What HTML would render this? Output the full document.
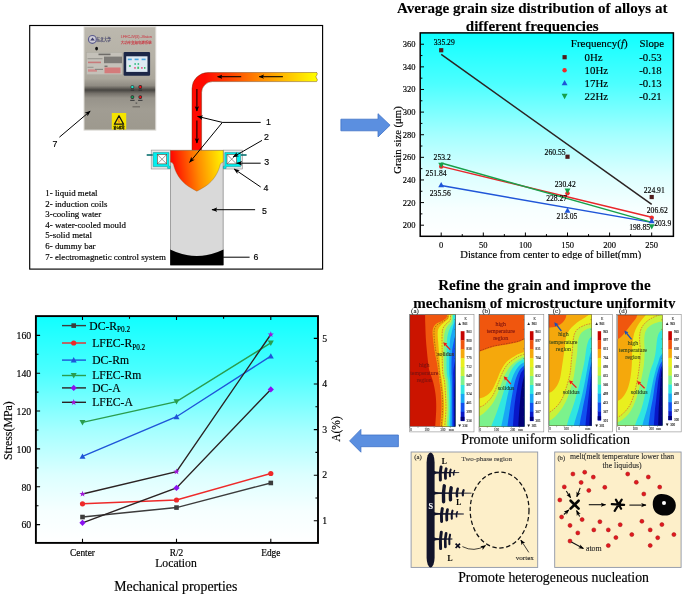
<!DOCTYPE html>
<html lang="en">
<head>
<meta charset="utf-8">
<title>Graphical abstract</title>
<style>
html,body{margin:0;padding:0;background:#fff;}
body{width:685px;height:596px;overflow:hidden;}
svg{display:block;}
text{font-family:"Liberation Serif","Noto Serif CJK SC",serif;fill:#000;stroke:#000;stroke-width:0.16px;stroke-linejoin:round;}
.ss{font-family:"Liberation Sans","Noto Sans CJK SC",sans-serif;}
.b{font-weight:bold;stroke-width:0.1px;}
.t{stroke-width:0.1px;}
</style>
</head>
<body>
<svg width="685" height="596" viewBox="0 0 685 596">
<filter id="soft" x="0" y="0" width="685" height="596" filterUnits="userSpaceOnUse" color-interpolation-filters="sRGB"><feGaussianBlur stdDeviation="0.45"/></filter>
<g filter="url(#soft)">
<defs>
<linearGradient id="gCy" x1="0" y1="0" x2="0" y2="1">
<stop offset="0" stop-color="#10ffff"/><stop offset="0.25" stop-color="#4cffff"/><stop offset="0.5" stop-color="#a4ffff"/><stop offset="0.7" stop-color="#dcffff"/><stop offset="0.86" stop-color="#f6ffff"/><stop offset="1" stop-color="#ffffff"/>
</linearGradient>
<linearGradient id="gPipe" gradientUnits="userSpaceOnUse" x1="205" y1="0" x2="317" y2="0">
<stop offset="0" stop-color="#ff0a00"/><stop offset="0.5" stop-color="#ff8c00"/><stop offset="1" stop-color="#ffff00"/>
</linearGradient>
<linearGradient id="gMelt" gradientUnits="userSpaceOnUse" x1="172" y1="160" x2="222" y2="154">
<stop offset="0" stop-color="#ff0a00"/><stop offset="0.5" stop-color="#ff8a00"/><stop offset="1" stop-color="#fff200"/>
</linearGradient>
<linearGradient id="gCab" x1="0" y1="0" x2="0" y2="1">
<stop offset="0" stop-color="#bcb8ae"/><stop offset="0.3" stop-color="#b6b2a7"/><stop offset="0.5" stop-color="#aba79c"/><stop offset="0.57" stop-color="#8f8b82"/><stop offset="0.612" stop-color="#474541"/><stop offset="0.645" stop-color="#75716a"/><stop offset="0.69" stop-color="#97938a"/><stop offset="0.8" stop-color="#a19d93"/><stop offset="1" stop-color="#9d998e"/>
</linearGradient>
<marker id="ah" viewBox="0 0 10 10" refX="9" refY="5" markerWidth="6" markerHeight="6" markerUnits="userSpaceOnUse" orient="auto"><path d="M0,1.2 L10,5 L0,8.8 L2.5,5 Z" fill="#000"/></marker>
<marker id="ahs" viewBox="0 0 10 10" refX="9" refY="5" markerWidth="5.4" markerHeight="5.4" markerUnits="userSpaceOnUse" orient="auto"><path d="M0,1 L10,5 L0,9 L2.5,5 Z" fill="#000"/></marker>
</defs>
<rect x="0" y="0" width="685" height="596" fill="#fff"/>
<g id="titles">
<text class="b" font-size="15.05" text-anchor="middle" x="532.2" y="12.9">Average grain size distribution of alloys at</text>
<text class="b" font-size="15.05" text-anchor="middle" x="532.2" y="30.6">different frequencies</text>
<text class="b" font-size="15.05" text-anchor="middle" x="544.4" y="290.2">Refine the grain and improve the</text>
<text class="b" font-size="15.05" text-anchor="middle" x="544.4" y="308.2">mechanism of microstructure uniformity</text>
<text font-size="13.95" text-anchor="middle" x="545.6" y="444.2">Promote uniform solidfication</text>
<text font-size="13.8" text-anchor="middle" x="553.6" y="581.6">Promote heterogeneous nucleation</text>
<path d="M340.9,119.2 L378,119.2 L378,113.7 L390.1,125.2 L378,136.9 L378,130.8 L340.9,130.8 Z" fill="#5b8fe0" stroke="#3f72c8" stroke-width="0.8" stroke-linejoin="miter"/>
<path d="M398.4,435 L360.9,435 L360.9,429.4 L349.6,440.9 L360.9,452.2 L360.9,446.7 L398.4,446.7 Z" fill="#5b8fe0" stroke="#3f72c8" stroke-width="0.8" stroke-linejoin="miter"/>
</g>
<g id="panel-apparatus">
<rect x="29.7" y="25.5" width="292.9" height="243.6" fill="#fff" stroke="#000" stroke-width="1.15"/>
<!-- cabinet -->
<g id="cabinet">
<rect x="84" y="26.8" width="71.8" height="103.3" fill="url(#gCab)" stroke="#dddbd6" stroke-width="1"/>
<circle cx="92.4" cy="39.4" r="3.9" fill="#cfcdd6" stroke="#5a5a8c" stroke-width="1.2"/>
<path d="M90.2,40.6 L92.5,37.6 L94.8,40.6 Z" fill="#3d3d6e"/>
<text x="96.5" y="41.4" font-size="4.6" fill="#3b3b66" style="fill:#3b3b66;stroke:#3b3b66" textLength="14.5" lengthAdjust="spacingAndGlyphs">东北大学</text>
<text class="ss" x="120.7" y="38.3" font-size="3.9" style="fill:#c9555c;stroke:#c9555c" textLength="31" lengthAdjust="spacingAndGlyphs">LFEC-IV(3) -Vision</text>
<text class="ss" x="120.7" y="43.9" font-size="3.9" style="fill:#c9404a;stroke:#c9404a" textLength="31" lengthAdjust="spacingAndGlyphs">大功率变频电源系统</text>
<ellipse cx="96.6" cy="48.6" rx="1.4" ry="1.9" fill="#111"/>
<rect x="86.6" y="52.5" width="35.5" height="22.2" fill="#c4c1b9" stroke="#a8a59c" stroke-width="0.4"/>
<rect x="98.5" y="53.6" width="12" height="1.6" fill="#6e6c68"/>
<rect x="104" y="56.6" width="18" height="6.6" fill="#7d7b77"/>
<rect x="87.5" y="58.3" width="15" height="0.9" fill="#8f8c86"/>
<rect x="88" y="61.6" width="13" height="1.6" fill="#c87a7a"/>
<rect x="87.5" y="66.8" width="6" height="0.9" fill="#8f8c86"/>
<rect x="88" y="69.3" width="9" height="2.4" fill="#d08a8a"/>
<rect x="95" y="68.8" width="8" height="1.2" fill="#8a8782"/>
<rect x="104.5" y="65.7" width="3" height="1" fill="#55534f"/>
<rect x="104.5" y="67.5" width="16" height="5.8" fill="#d47b7b"/>
<rect x="123.6" y="51.9" width="26.5" height="23.9" rx="1.2" fill="#1c2748"/>
<rect x="126.2" y="56.3" width="21.3" height="15.6" fill="#dfeaf3"/>
<rect x="127.8" y="58.6" width="4" height="1.6" fill="#4aa5e0"/>
<rect x="134.6" y="58.6" width="4" height="1.6" fill="#4aa5e0"/>
<rect x="141.6" y="58.6" width="4" height="1.6" fill="#4aa5e0"/>
<circle cx="129.9" cy="66" r="1.1" fill="#3cc06a"/>
<rect x="134.4" y="63" width="1.5" height="2" fill="#48c090"/><rect x="137.6" y="63" width="1.5" height="2" fill="#48c090"/>
<rect x="134.3" y="67" width="1.4" height="1.8" fill="#e0507a"/><rect x="137.3" y="66.7" width="1.8" height="2.2" fill="#3cc06a"/>
<rect x="141.2" y="67" width="1.4" height="1.8" fill="#e0507a"/><rect x="144" y="67" width="1.4" height="1.8" fill="#3cc06a"/>
<circle cx="132.4" cy="87.1" r="1.9" fill="#2a2a28"/><circle cx="132.4" cy="87.1" r="1.25" fill="#1fe0c8"/>
<circle cx="140.3" cy="87" r="1.9" fill="#2a2a28"/><circle cx="140.3" cy="87" r="1.2" fill="#e8121a"/>
<circle cx="132.4" cy="97.1" r="1.9" fill="#2a2a28"/><circle cx="132.4" cy="97.1" r="1.2" fill="#199a5c"/>
<circle cx="140.3" cy="97.1" r="1.9" fill="#2a2a28"/><circle cx="140.3" cy="97.1" r="1.2" fill="#e8121a"/>
<rect x="130.6" y="89.6" width="3.6" height="1.2" fill="#333"/><rect x="138.5" y="89.6" width="3.6" height="1.2" fill="#333"/>
<rect x="130.2" y="99.8" width="4.4" height="1.2" fill="#444"/><rect x="138.1" y="99.8" width="4.4" height="1.2" fill="#444"/>
<rect x="135.6" y="102.6" width="1.6" height="1" fill="#444"/>
<rect x="132.5" y="106.2" width="7.5" height="1.2" fill="#6b6861"/>
<rect x="111.8" y="113" width="14.4" height="16.5" fill="#f5e400"/>
<path d="M119,115.8 L123.6,124.2 L114.4,124.2 Z" fill="#f5e400" stroke="#151515" stroke-width="1.3" stroke-linejoin="round"/>
<path d="M119.2,118.6 L118.3,121.4 L119.5,121.2 L118.7,123.4" fill="none" stroke="#f07020" stroke-width="0.9"/>
<text class="ss b" x="113.6" y="128.6" font-size="3.1" textLength="10.8" lengthAdjust="spacingAndGlyphs">當心觸電</text>
</g>
<!-- pipe -->
<path d="M317,72.5 L208,72.5 A16,16 0 0 0 192,88.5 L192,151 L201.6,151 L201.6,92.6 A11,11 0 0 1 212.6,81.6 L316.6,81.6 Q318.4,80 316.4,78 Q315.4,76.4 316.8,75.2 Q318,73.6 316.6,72.5 Z" fill="url(#gPipe)"/>
<path d="M317,72.5 L208,72.5 A16,16 0 0 0 192,88.5 L192,151 M201.6,151 L201.6,92.6 A11,11 0 0 1 212.6,81.6 L316.6,81.6 Q318.4,80 316.4,78 Q315.4,76.4 316.8,75.2 Q318,73.6 316.6,72.5" fill="none" stroke="#5a2a08" stroke-width="0.5" opacity="0.8"/>
<!-- billet -->
<path d="M170.5,150.4 L223.2,150.4 L223.2,265.1 L170.5,265.1 Z" fill="#d9d9d9" stroke="#7f7f7f" stroke-width="0.7"/>
<path d="M170.2,249.4 Q196.8,262.6 223.5,249.4 L223.5,265.3 L170.2,265.3 Z" fill="#000"/>
<!-- moulds -->
<g id="mouldL">
<rect x="151.2" y="150.1" width="19.2" height="18.9" fill="#e6e6e6" stroke="#8c8c8c" stroke-width="0.6"/>
<path d="M153.2,152.6 L168.9,152.6 L168.9,166.2 L170.3,166.2 L170.3,168.4 L167.6,168.4 L167.6,166.6 L153.2,166.6 Z" fill="#00f0f0" stroke="#008a8a" stroke-width="0.5"/>
<rect x="157.3" y="154.5" width="9.4" height="9.4" fill="#fff" stroke="#6b3b2b" stroke-width="0.6"/>
<path d="M157.3,154.5 L166.7,163.9 M166.7,154.5 L157.3,163.9" stroke="#555" stroke-width="0.6"/>
<rect x="146.7" y="154.2" width="6" height="1.6" fill="#0a6f6f"/>
</g>
<g id="mouldR">
<rect x="223.3" y="150.1" width="19.2" height="18.9" fill="#e6e6e6" stroke="#8c8c8c" stroke-width="0.6"/>
<path d="M240.5,152.6 L224.8,152.6 L224.8,166.2 L223.4,166.2 L223.4,168.4 L226.1,168.4 L226.1,166.6 L240.5,166.6 Z" fill="#00f0f0" stroke="#008a8a" stroke-width="0.5"/>
<rect x="227" y="154.5" width="9.4" height="9.4" fill="#fff" stroke="#6b3b2b" stroke-width="0.6"/>
<path d="M227,154.5 L236.4,163.9 M236.4,154.5 L227,163.9" stroke="#555" stroke-width="0.6"/>
<rect x="241" y="154.2" width="5.6" height="1.6" fill="#0a6f6f"/>
</g>
<!-- melt -->
<path d="M170.5,150.4 L223.2,150.4 L223.2,162.1 Q221,162.4 220.2,164.6 C218.6,172 213.6,181 205.5,186.2 Q200.5,189.4 196.85,191.2 Q193.2,189.4 188.2,186.2 C180.1,181 175.1,172 173.5,164.6 Q172.7,162.4 170.5,162.1 Z" fill="url(#gMelt)" stroke="#8a5a20" stroke-width="0.35"/>
<!-- flow arrows -->
<g stroke="#000" stroke-width="1.05" fill="none">
<path d="M241.2,76.7 L217.6,76.7" marker-end="url(#ahs)"/>
<path d="M282.9,76.7 L259.2,76.7" marker-end="url(#ahs)"/>
<path d="M196.9,89.1 L196.9,111" marker-end="url(#ahs)"/>
<path d="M196.9,120.5 L196.9,143" marker-end="url(#ahs)"/>
</g>
<!-- callouts -->
<g stroke="#000" stroke-width="1" fill="none">
<path d="M260.7,122.4 L222.4,122.4"/>
<path d="M222.4,122.4 L197.6,116.4" marker-end="url(#ah)"/>
<path d="M222.4,122.4 L189.6,162.4" marker-end="url(#ah)"/>
<path d="M262,140.4 L233.2,157" marker-end="url(#ah)"/>
<path d="M260.7,163.2 L236.8,163.2" marker-end="url(#ah)"/>
<path d="M260.7,187 L234.2,169" marker-end="url(#ah)"/>
<path d="M255.1,209.7 L212,209.7" marker-end="url(#ah)"/>
<path d="M249.6,257.2 L223.2,257.2"/>
<path d="M59.4,137.2 L90.2,111.1" marker-end="url(#ah)"/>
</g>
<g class="ss" font-size="8.8">
<text class="ss" x="266" y="125.3">1</text>
<text class="ss" x="264" y="139.8">2</text>
<text class="ss" x="264.3" y="164.8">3</text>
<text class="ss" x="263.6" y="190.6">4</text>
<text class="ss" x="262" y="213.7">5</text>
<text class="ss" x="253.6" y="260.3">6</text>
<text class="ss" x="52.4" y="147.2">7</text>
</g>
<g font-size="8.9" style="stroke-width:0.24px">
<text x="45.3" y="195.6">1- liquid metal</text>
<text x="45.3" y="206.7">2- induction coils</text>
<text x="45.3" y="216.9">3-cooling water</text>
<text x="45.3" y="227.6">4- water-cooled mould</text>
<text x="45.3" y="238.2">5-solid metal</text>
<text x="45.3" y="248.9">6- dummy bar</text>
<text x="45.3" y="259.5">7- electromagnetic control system</text>
</g>
</g>
<g id="plot-grain">
<rect x="420.2" y="32.9" width="253.2" height="203.4" fill="url(#gCy)" stroke="#000" stroke-width="1.5"/>
<path d="M420.2,225.2 h3.8 M420.2,202.58 h3.8 M420.2,179.96 h3.8 M420.2,157.34 h3.8 M420.2,134.72 h3.8 M420.2,112.1 h3.8 M420.2,89.48 h3.8 M420.2,66.86 h3.8 M420.2,44.24 h3.8 M420.2,213.89 h2.2 M420.2,191.27 h2.2 M420.2,168.65 h2.2 M420.2,146.03 h2.2 M420.2,123.41 h2.2 M420.2,100.79 h2.2 M420.2,78.17 h2.2 M420.2,55.55 h2.2 M441.2,236.3 v-3.8 M483.3,236.3 v-3.8 M525.4,236.3 v-3.8 M567.5,236.3 v-3.8 M609.6,236.3 v-3.8 M651.7,236.3 v-3.8 M462.25,236.3 v-2.2 M504.35,236.3 v-2.2 M546.45,236.3 v-2.2 M588.55,236.3 v-2.2 M630.65,236.3 v-2.2" stroke="#000" stroke-width="1" fill="none"/>
<g font-size="8.5" text-anchor="end">
<text x="415.6" y="228.2">200</text>
<text x="415.6" y="205.58">220</text>
<text x="415.6" y="182.96">240</text>
<text x="415.6" y="160.34">260</text>
<text x="415.6" y="137.72">280</text>
<text x="415.6" y="115.1">300</text>
<text x="415.6" y="92.48">320</text>
<text x="415.6" y="69.86">340</text>
<text x="415.6" y="47.24">360</text>
</g>
<g font-size="8.5" text-anchor="middle">
<text x="441.2" y="248.2">0</text>
<text x="483.3" y="248.2">50</text>
<text x="525.4" y="248.2">100</text>
<text x="567.5" y="248.2">150</text>
<text x="609.6" y="248.2">200</text>
<text x="651.7" y="248.2">250</text>
</g>
<path d="M441.2,54.42 L651.7,204.28" stroke="#2b2323" stroke-width="1.5" fill="none"/>
<path d="M441.2,185.61 L651.7,222.37" stroke="#1f55d8" stroke-width="1.5" fill="none"/>
<path d="M441.2,166.39 L651.7,217.28" stroke="#e8262a" stroke-width="1.5" fill="none"/>
<path d="M441.2,163 L651.7,222.37" stroke="#17a04a" stroke-width="1.5" fill="none"/>
<rect x="439.1" y="48.13" width="4.2" height="4.2" fill="#4e1c1c"/>
<rect x="565.4" y="154.62" width="4.2" height="4.2" fill="#4e1c1c"/>
<rect x="649.6" y="194.93" width="4.2" height="4.2" fill="#4e1c1c"/>
<circle cx="441.2" cy="166.57" r="2.2" fill="#ee2a2a"/>
<circle cx="567.5" cy="193.23" r="2.2" fill="#ee2a2a"/>
<circle cx="651.7" cy="217.71" r="2.2" fill="#ee2a2a"/>
<path d="M441.2,182.03 L444.15,187.34 L438.25,187.34 Z" fill="#1f55d8"/>
<path d="M567.5,207.49 L570.45,212.8 L564.55,212.8 Z" fill="#1f55d8"/>
<path d="M651.7,217.84 L654.65,223.15 L648.75,223.15 Z" fill="#1f55d8"/>
<path d="M441.2,167.98 L444.15,162.67 L438.25,162.67 Z" fill="#17a04a"/>
<path d="M567.5,193.74 L570.45,188.43 L564.55,188.43 Z" fill="#17a04a"/>
<path d="M651.7,229.45 L654.65,224.14 L648.75,224.14 Z" fill="#17a04a"/>
<g font-size="7.6" style="stroke-width:0.05px">
<text x="433.8" y="45.2">335.29</text>
<text x="544.6" y="154.6">260.55</text>
<text x="643.8" y="192.6">224.91</text>
<text x="433.6" y="160.0">253.2</text>
<text x="425.6" y="176.4">251.84</text>
<text x="429.8" y="196.0">235.56</text>
<text x="554.8" y="187.0">230.42</text>
<text x="546.2" y="200.8">228.27</text>
<text x="556.4" y="218.8">213.05</text>
<text x="646.8" y="213.4">206.62</text>
<text x="654.2" y="226.0">203.9</text>
<text x="629.2" y="230.4">198.85</text>
</g>
<g font-size="10.8">
<text x="570.8" y="47.2" font-size="11">Frequency(<tspan font-style="italic">f</tspan>)</text>
<text x="639.4" y="47.2">Slope</text>
<text x="584.6" y="60.6">0Hz</text>
<text x="639.2" y="60.6">-0.53</text>
<text x="584.6" y="73.6">10Hz</text>
<text x="639.2" y="73.6">-0.18</text>
<text x="584.6" y="86.8">17Hz</text>
<text x="639.2" y="86.8">-0.13</text>
<text x="584.6" y="99.8">22Hz</text>
<text x="639.2" y="99.8">-0.21</text>
</g>
<rect x="562.5" y="55.1" width="4.2" height="4.2" fill="#4e1c1c"/>
<circle cx="564.6" cy="70.2" r="2.2" fill="#ee2a2a"/>
<path d="M564.6,80.05 L567.55,85.36 L561.65,85.36 Z" fill="#1f55d8"/>
<path d="M564.6,99.15 L567.55,93.84 L561.65,93.84 Z" fill="#17a04a"/>
<text font-size="10.7" text-anchor="middle" transform="translate(400.5,140) rotate(-90)">Grain size (μm)</text>
<text font-size="10.55" text-anchor="middle" x="550.8" y="258.4">Distance from center to edge of billet(mm)</text>
<rect x="455" y="259.3" width="195" height="4.4" fill="#fff"/>
</g>
<g id="plot-mech">
<rect x="35.9" y="316.1" width="282.1" height="226.8" fill="url(#gCy)" stroke="#000" stroke-width="1.9"/>
<path d="M35.9,524.6 h4.2 M35.9,486.75 h4.2 M35.9,448.9 h4.2 M35.9,411.05 h4.2 M35.9,373.2 h4.2 M35.9,335.35 h4.2 M35.9,505.68 h2.6 M35.9,467.83 h2.6 M35.9,429.98 h2.6 M35.9,392.12 h2.6 M35.9,354.27 h2.6 M318.0,520.8 h-4.2 M318.0,475.2 h-4.2 M318.0,429.6 h-4.2 M318.0,384 h-4.2 M318.0,338.4 h-4.2 M318.0,498 h-2.6 M318.0,452.4 h-2.6 M318.0,406.8 h-2.6 M318.0,361.2 h-2.6 M82.5,542.9 v-4.2 M82.5,316.1 v4 M176.5,542.9 v-4.2 M176.5,316.1 v4 M270.8,542.9 v-4.2 M270.8,316.1 v4 M129.5,316.1 v2.6 M223.6,316.1 v2.6" stroke="#000" stroke-width="1.1" fill="none"/>
<g font-size="9.8" text-anchor="end">
<text x="31.2" y="528.4">60</text>
<text x="31.2" y="490.55">80</text>
<text x="31.2" y="452.7">100</text>
<text x="31.2" y="414.85">120</text>
<text x="31.2" y="377">140</text>
<text x="31.2" y="339.15">160</text>
</g>
<g font-size="9.8">
<text x="322.2" y="524">1</text>
<text x="322.2" y="478.4">2</text>
<text x="322.2" y="432.8">3</text>
<text x="322.2" y="387.2">4</text>
<text x="322.2" y="341.6">5</text>
</g>
<g font-size="9.4" text-anchor="middle">
<text x="82.5" y="555.5">Center</text>
<text x="176.5" y="555.5">R/2</text>
<text x="270.8" y="555.5">Edge</text>
</g>
<path d="M82.5,517.03 L176.5,507.57 L270.8,482.97" stroke="#3c3c3c" stroke-width="1.4" fill="none"/>
<path d="M82.5,503.78 L176.5,500 L270.8,473.5" stroke="#ee2a2a" stroke-width="1.4" fill="none"/>
<path d="M82.5,456.47 L176.5,416.73 L270.8,356.17" stroke="#1f55d8" stroke-width="1.4" fill="none"/>
<path d="M82.5,422.41 L176.5,401.59 L270.8,342.92" stroke="#2a9d4e" stroke-width="1.4" fill="none"/>
<path d="M82.5,522.8 L176.5,487.9 L270.8,389.4" stroke="#2b2323" stroke-width="1.4" fill="none"/>
<path d="M82.5,494 L176.5,471.7 L270.8,334.5" stroke="#2b2323" stroke-width="1.4" fill="none"/>
<rect x="80.2" y="514.73" width="4.6" height="4.6" fill="#3c3c3c"/>
<rect x="174.2" y="505.27" width="4.6" height="4.6" fill="#3c3c3c"/>
<rect x="268.5" y="480.67" width="4.6" height="4.6" fill="#3c3c3c"/>
<circle cx="82.5" cy="503.78" r="2.6" fill="#ee2a2a"/>
<circle cx="176.5" cy="500" r="2.6" fill="#ee2a2a"/>
<circle cx="270.8" cy="473.5" r="2.6" fill="#ee2a2a"/>
<path d="M82.5,453.47 L85.5,458.87 L79.5,458.87 Z" fill="#1f55d8"/>
<path d="M176.5,413.73 L179.5,419.13 L173.5,419.13 Z" fill="#1f55d8"/>
<path d="M270.8,353.17 L273.8,358.57 L267.8,358.57 Z" fill="#1f55d8"/>
<path d="M82.5,425.41 L85.5,420.01 L79.5,420.01 Z" fill="#2a9d4e"/>
<path d="M176.5,404.59 L179.5,399.19 L173.5,399.19 Z" fill="#2a9d4e"/>
<path d="M270.8,345.92 L273.8,340.52 L267.8,340.52 Z" fill="#2a9d4e"/>
<path d="M82.5,519.7 L85.6,522.8 L82.5,525.9 L79.4,522.8 Z" fill="#8a12f0"/>
<path d="M176.5,484.8 L179.6,487.9 L176.5,491 L173.4,487.9 Z" fill="#8a12f0"/>
<path d="M270.8,386.3 L273.9,389.4 L270.8,392.5 L267.7,389.4 Z" fill="#8a12f0"/>
<path d="M82.5,490.8 L83.29,492.91 L85.54,493.01 L83.78,494.42 L84.38,496.59 L82.5,495.34 L80.62,496.59 L81.22,494.42 L79.46,493.01 L81.71,492.91 Z" fill="#a018d8"/>
<path d="M176.5,468.5 L177.29,470.61 L179.54,470.71 L177.78,472.12 L178.38,474.29 L176.5,473.04 L174.62,474.29 L175.22,472.12 L173.46,470.71 L175.71,470.61 Z" fill="#a018d8"/>
<path d="M270.8,331.3 L271.59,333.41 L273.84,333.51 L272.08,334.92 L272.68,337.09 L270.8,335.84 L268.92,337.09 L269.52,334.92 L267.76,333.51 L270.01,333.41 Z" fill="#a018d8"/>
<path d="M62,325.6 H86" stroke="#3c3c3c" stroke-width="1.4"/>
<rect x="71.4" y="323.3" width="4.6" height="4.6" fill="#3c3c3c"/>
<text font-size="11.6" x="89.3" y="329.5">DC-R<tspan font-size="7.2" dy="2.6">P0.2</tspan></text>
<path d="M62,343.0 H86" stroke="#ee2a2a" stroke-width="1.4"/>
<circle cx="73.7" cy="343" r="2.6" fill="#ee2a2a"/>
<text font-size="11.6" x="92.2" y="346.9">LFEC-R<tspan font-size="7.2" dy="2.6">P0.2</tspan></text>
<path d="M62,360.1 H86" stroke="#1f55d8" stroke-width="1.4"/>
<path d="M73.7,357.1 L76.7,362.5 L70.7,362.5 Z" fill="#1f55d8"/>
<text font-size="11.6" x="92.2" y="364">DC-Rm</text>
<path d="M62,375.5 H86" stroke="#2a9d4e" stroke-width="1.4"/>
<path d="M73.7,378.5 L76.7,373.1 L70.7,373.1 Z" fill="#2a9d4e"/>
<text font-size="11.6" x="92.2" y="379.4">LFEC-Rm</text>
<path d="M62,387.9 H86" stroke="#2b2323" stroke-width="1.4"/>
<path d="M73.7,384.8 L76.8,387.9 L73.7,391 L70.6,387.9 Z" fill="#8a12f0"/>
<text font-size="11.6" x="92.2" y="391.8">DC-A</text>
<path d="M62,402.3 H86" stroke="#2b2323" stroke-width="1.4"/>
<path d="M73.7,399.1 L74.49,401.21 L76.74,401.31 L74.98,402.72 L75.58,404.89 L73.7,403.64 L71.82,404.89 L72.42,402.72 L70.66,401.31 L72.91,401.21 Z" fill="#a018d8"/>
<text font-size="11.6" x="92.2" y="406.2">LFEC-A</text>
<text font-size="11.9" text-anchor="middle" transform="translate(12.4,430.6) rotate(-90)">Stress(MPa)</text>
<text font-size="11.5" text-anchor="middle" transform="translate(339.8,429) rotate(-90)">A(%)</text>
<text font-size="11.7" text-anchor="middle" x="176" y="566.6">Location</text>
<text font-size="13.8" text-anchor="middle" x="175.8" y="590.6">Mechanical properties</text>
</g>
<g id="contours">
<rect x="405" y="308.5" width="280" height="124.3" fill="#fff"/>
<g id="contour-a">
<rect x="409.7" y="314.4" width="64.3" height="117.5" fill="#fff" stroke="#8a8a8a" stroke-width="0.6"/>
<clipPath id="cp1"><rect x="409.9" y="314.8" width="45.3" height="111.8"/></clipPath>
<g clip-path="url(#cp1)">
<rect x="409.9" y="314.8" width="45.3" height="111.8" fill="#cb1400"/>
<path d="M425.1,313 C425.1,315 425.1,320.1 425.3,325 C425.5,329.9 425.6,336 426.1,342.2 C426.6,348.4 427.5,357.4 428.1,362.3 C428.7,367.2 428.8,368.3 429.6,371.4 C430.4,374.5 431.9,377.3 432.9,381.1 C433.9,384.9 434.9,389.4 435.5,394 C436.1,398.6 436.3,403.3 436.2,409 C436.1,414.7 435.3,424.8 435.1,428 L435.1,428.6 L457.2,428.6 L457.2,312.8 L425.1,312.8 Z" fill="#f0560e"/>
<path d="M446.9,313 C446.8,313.8 447.4,316.3 446.6,317.6 C445.8,318.9 443.9,320 442.2,321 C440.5,322 437.7,322.6 436.2,323.8 C434.7,325 433.8,326.4 433.2,328.1 C432.6,329.8 432.5,331.4 432.6,334.1 C432.7,336.8 433.3,340.8 433.7,344.2 C434.1,347.6 434.6,350.9 435.2,354.3 C435.8,357.7 436.5,359.9 437.2,364.3 C437.9,368.8 438.8,376.1 439.4,381 C440,385.9 440.8,389.3 441.1,394 C441.5,398.7 441.7,403.3 441.5,409 C441.3,414.7 440.2,424.8 440,428 L440,428.6 L457.2,428.6 L457.2,312.8 L446.9,312.8 Z" fill="#f5a80c"/>
<path d="M448.6,313 C448.6,313.9 449.1,317.1 448.4,318.6 C447.7,320.1 445.7,320.8 444.2,322.2 C442.7,323.6 440.5,325.5 439.4,327.1 C438.3,328.8 437.9,329.6 437.7,332.1 C437.5,334.6 437.9,338.5 438.2,342.2 C438.4,345.9 438.8,349.4 439.2,354.3 C439.6,359.2 439.9,366.9 440.4,371.4 C440.9,375.8 441.5,377.2 442,381 C442.5,384.8 443.1,389.3 443.5,394 C443.9,398.7 444.2,403.3 444.1,409 C444,414.7 442.9,424.8 442.6,428 L442.6,428.6 L457.2,428.6 L457.2,312.8 L448.6,312.8 Z" fill="#e9ef1e"/>
<path d="M450.4,313 C450.4,314.2 450.8,318.3 450.2,320 C449.6,321.7 447.8,322 446.6,323.4 C445.4,324.8 443.9,326.3 443.1,328.1 C442.4,329.9 442.3,330.9 442.1,334.1 C441.9,337.3 442,341 442.1,347.2 C442.2,353.4 442.2,365.8 442.6,371.4 C443,377 443.9,377.2 444.4,381 C444.9,384.8 445.1,389.3 445.4,394 C445.6,398.7 446,403.3 445.9,409 C445.8,414.7 444.8,424.8 444.6,428 L444.6,428.6 L457.2,428.6 L457.2,312.8 L450.4,312.8 Z" fill="#c9f23a"/>
<path d="M451.7,313 C451.6,314.3 452.1,318.8 451.4,321 C450.7,323.2 448.6,324.2 447.5,326.1 C446.4,328 445.4,329.4 444.8,332.1 C444.2,334.8 443.9,335.6 443.8,342.2 C443.7,348.8 443.9,364.9 444.3,371.4 C444.7,377.9 445.8,377.2 446.3,381 C446.8,384.8 446.9,389.3 447.1,394 C447.3,398.7 447.8,403.3 447.7,409 C447.6,414.7 446.9,424.8 446.7,428 L446.7,428.6 L457.2,428.6 L457.2,312.8 L451.7,312.8 Z" fill="#7cf28c"/>
<path d="M453,313 C452.9,314.7 453.1,320.6 452.6,323 C452.2,325.4 451.1,325.4 450.3,327.4 C449.5,329.4 448.3,331.8 447.7,335.1 C447.1,338.4 446.9,341.1 446.7,347.2 C446.5,353.2 446.4,365.8 446.7,371.4 C447,377 447.9,377.2 448.3,381 C448.7,384.8 448.8,389.3 449,394 C449.2,398.7 449.5,403.3 449.4,409 C449.3,414.7 448.6,424.8 448.5,428 L448.5,428.6 L457.2,428.6 L457.2,312.8 L453,312.8 Z" fill="#30e6e0"/>
<path d="M455,320 C454.5,322 452.7,328.1 451.8,332.1 C450.9,336.1 450.2,337.6 449.8,344.2 C449.4,350.8 449.2,365.3 449.3,371.4 C449.4,377.5 449.9,377.2 450.1,381 C450.3,384.8 450.6,386.2 450.6,394 C450.6,401.8 450.3,422.3 450.2,428 L450.2,428.6 L457.2,428.6 L457.2,312.8 L455,312.8 Z" fill="#18a8f4"/>
<path d="M455.2,335 C454.7,337.9 452.6,346.1 452,352.2 C451.4,358.3 451.5,366.6 451.5,371.4 C451.5,376.2 451.7,371.6 451.8,381 C451.9,390.4 452,420.2 452,428 L452,428.6 L457.2,428.6 L457.2,312.8 L455.2,312.8 Z" fill="#1050f0"/>
<path d="M455.5,358 C455.1,360.2 453.8,367.6 453.4,371.4 C453,375.2 453.4,371.6 453.4,381 C453.4,390.4 453.5,420.2 453.5,428 L453.5,428.6 L457.2,428.6 L457.2,312.8 L455.5,312.8 Z" fill="#0818c8"/>
<path d="M455.7,376 C455.5,378.3 454.8,381.3 454.6,390 C454.4,398.7 454.5,421.7 454.5,428 L454.5,428.6 L457.2,428.6 L457.2,312.8 L455.7,312.8 Z" fill="#000078"/>
<path d="M450.4,313 C450.4,314.2 450.8,318.3 450.2,320 C449.6,321.7 447.8,322 446.6,323.4 C445.4,324.8 443.9,326.3 443.1,328.1 C442.4,329.9 442.3,330.9 442.1,334.1 C441.9,337.3 442,341 442.1,347.2 C442.2,353.4 442.2,365.8 442.6,371.4 C443,377 443.9,377.2 444.4,381 C444.9,384.8 445.1,389.3 445.4,394 C445.6,398.7 446,403.3 445.9,409 C445.8,414.7 444.8,424.8 444.6,428" fill="none" stroke="#e03030" stroke-width="0.55" stroke-dasharray="1.6 1.1"/>
<path d="M448,313 C447.9,313.8 448.4,316.6 447.6,318 C446.8,319.4 444.7,320.5 443,321.6 C441.3,322.7 438.8,323.4 437.4,324.6 C436,325.8 435.2,327 434.6,328.6 C434,330.2 434,331.5 434,334.1 C434,336.7 434.4,340.8 434.8,344.2 C435.2,347.6 435.8,350.9 436.4,354.3 C437,357.7 437.7,359.9 438.4,364.3 C439.1,368.8 439.8,376.1 440.4,381 C441,385.9 441.8,389.3 442.2,394 C442.6,398.7 442.8,403.3 442.6,409 C442.4,414.7 441.4,424.8 441.2,428" fill="none" stroke="#7a3a10" stroke-width="0.55" stroke-dasharray="1.6 1.1"/>
</g>
<rect x="409.9" y="314.8" width="45.3" height="111.8" fill="none" stroke="#333" stroke-width="0.4"/>
<rect x="460.7" y="331.2" width="3.8" height="9.3" fill="#c60400"/>
<rect x="460.7" y="340.2" width="3.8" height="9.3" fill="#f0560e"/>
<rect x="460.7" y="349.1" width="3.8" height="9.3" fill="#f5a80c"/>
<rect x="460.7" y="358.1" width="3.8" height="9.3" fill="#e9ef1e"/>
<rect x="460.7" y="367" width="3.8" height="9.3" fill="#c9f23a"/>
<rect x="460.7" y="376" width="3.8" height="9.3" fill="#7cf28c"/>
<rect x="460.7" y="385" width="3.8" height="9.3" fill="#30e6e0"/>
<rect x="460.7" y="393.9" width="3.8" height="9.3" fill="#18a8f4"/>
<rect x="460.7" y="402.9" width="3.8" height="9.3" fill="#1050f0"/>
<rect x="460.7" y="411.8" width="3.8" height="9.3" fill="#0818c8"/>
<rect x="460.7" y="416.8" width="3.8" height="4" fill="#000078"/>
<g class="t" font-size="3.3">
<text class="t" x="466.6" y="332.5" style="fill:#222;stroke:#222">963</text>
<text class="t" x="466.6" y="341.5" style="fill:#222;stroke:#222">900</text>
<text class="t" x="466.6" y="350.4" style="fill:#222;stroke:#222">838</text>
<text class="t" x="466.6" y="359.4" style="fill:#222;stroke:#222">775</text>
<text class="t" x="466.6" y="368.3" style="fill:#222;stroke:#222">712</text>
<text class="t" x="466.6" y="377.3" style="fill:#222;stroke:#222">649</text>
<text class="t" x="466.6" y="386.3" style="fill:#222;stroke:#222">587</text>
<text class="t" x="466.6" y="395.2" style="fill:#222;stroke:#222">524</text>
<text class="t" x="466.6" y="404.2" style="fill:#222;stroke:#222">461</text>
<text class="t" x="466.6" y="413.1" style="fill:#222;stroke:#222">399</text>
<text class="t" x="466.6" y="422.1" style="fill:#222;stroke:#222">336</text>
<text class="t" x="464.4" y="320" style="fill:#444;stroke:#444">K</text>
<text class="t" x="457.4" y="324.5" style="fill:#222;stroke:#222"><tspan font-size="4.4">▲</tspan> 963</text>
<text class="t" x="457.4" y="427.2" style="fill:#222;stroke:#222"><tspan font-size="4.4">▼</tspan> 336</text>
<text class="t" x="411" y="431.2" text-anchor="middle" style="fill:#444;stroke:#444">0</text>
<text class="t" x="427" y="431.2" text-anchor="middle" style="fill:#444;stroke:#444">100</text>
<text class="t" x="443" y="431.2" text-anchor="middle" style="fill:#444;stroke:#444">200</text>
<text class="t" x="451.4" y="431.2" text-anchor="middle" style="fill:#444;stroke:#444">mm</text>
</g>
<path d="M409.9,426.6 v1.4 M418,426.6 v1.4 M426.1,426.6 v1.4 M434.2,426.6 v1.4 M442.3,426.6 v1.4 M450.3,426.6 v1.4 M455.2,426.6 h-1.2 M455.2,416.9 h-1.2 M455.2,407.2 h-1.2 M455.2,397.4 h-1.2 M455.2,387.7 h-1.2 M455.2,378 h-1.2 M455.2,368.3 h-1.2 M455.2,358.5 h-1.2 M455.2,348.8 h-1.2 M455.2,339.1 h-1.2 M455.2,329.4 h-1.2 M455.2,319.7 h-1.2" stroke="#444" stroke-width="0.35" fill="none"/>
<text x="445.6" y="355.8" class="t" font-size="5.9" text-anchor="middle" style="fill:#3a2a10;stroke:#3a2a10">solidus</text>
<text x="424.2" y="367.4" class="t" font-size="5.9" text-anchor="middle" style="fill:#7e1410;stroke:#7e1410">high</text>
<text x="424.2" y="374.6" class="t" font-size="5.9" text-anchor="middle" style="fill:#7e1410;stroke:#7e1410">temperature</text>
<text x="424.2" y="381.8" class="t" font-size="5.9" text-anchor="middle" style="fill:#7e1410;stroke:#7e1410">region</text>
<path d="M450.2,349.6 L445.8,345" stroke="#f01818" stroke-width="1.3" fill="none"/>
<path d="M443.2,342.2 L447.3,343.6 L444.4,346.3 Z" fill="#f01818"/>
<text class="t" x="411.1" y="312.9" font-size="6.9" style="fill:#222;stroke:#222">(a)</text>
</g>
<g id="contour-b">
<rect x="479" y="314.4" width="64.8" height="117.5" fill="#fff" stroke="#8a8a8a" stroke-width="0.6"/>
<clipPath id="cp2"><rect x="479.2" y="314.8" width="45.1" height="111.7"/></clipPath>
<g clip-path="url(#cp2)">
<rect x="479.2" y="314.8" width="45.1" height="111.7" fill="#f0560e"/>
<path d="M477.5,352.4 C478.6,352 481.7,350.8 484,350 C486.3,349.2 488.7,348.1 491.4,347.4 C494.1,346.7 497.4,346.1 500,345.6 C502.6,345.1 504.2,344.9 506.9,344.4 C509.6,343.9 513.8,343.2 516.1,342.6 C518.5,342 519.4,341.7 521,341 C522.6,340.3 525.2,339 526,338.6 L526.3,338.6 L526.3,428.5 L477.2,428.5 L477.5,352.4 Z" fill="#f5a80c"/>
<path d="M477.5,398.6 C478.1,398.5 479.7,398.4 481,398 C482.3,397.6 483.6,397.5 485.3,396.3 C487,395.1 489.6,393.3 491.4,390.9 C493.2,388.5 494.6,385 496.1,381.7 C497.7,378.4 498.9,374.2 500.7,370.9 C502.5,367.5 504.6,364.1 506.9,361.6 C509.2,359.2 512.4,357.5 514.6,356.2 C516.8,354.9 518.1,354.4 520,353.6 C521.9,352.8 525,351.8 526,351.4 L526.3,351.4 L526.3,428.5 L477.2,428.5 L477.5,398.6 Z" fill="#e9ef1e"/>
<path d="M477.5,407.6 C478.1,407.4 479.7,407.2 481,406.6 C482.3,406 483.4,405.7 485.3,404 C487.2,402.3 490.2,399.5 492.2,396.4 C494.2,393.3 495.6,389.3 497.2,385.6 C498.8,381.9 500.1,377.6 501.8,374 C503.5,370.4 505.3,366.9 507.6,364.3 C509.9,361.7 513.3,359.6 515.4,358.1 C517.5,356.7 518.4,356.4 520.2,355.6 C522,354.8 525,353.8 526,353.4 L526.3,353.4 L526.3,428.5 L477.2,428.5 L477.5,407.6 Z" fill="#c9f23a"/>
<path d="M477.5,416.6 C478.1,416.4 479.7,416 481,415.2 C482.3,414.4 483.3,413.9 485.3,411.8 C487.3,409.7 490.9,406.2 493.2,402.6 C495.4,399 497.1,394.5 498.8,390.4 C500.5,386.3 501.8,381.7 503.5,378 C505.2,374.3 506.9,370.8 509,368 C511.1,365.2 514.5,362.7 516.4,361.1 C518.3,359.5 519,359.2 520.6,358.4 C522.2,357.6 525.1,356.6 526,356.2 L526.3,356.2 L526.3,428.5 L477.2,428.5 L477.5,416.6 Z" fill="#7cf28c"/>
<path d="M490.6,428 C490.8,427.5 490.9,427.3 491.8,425 C492.7,422.7 494.5,418.5 496.1,414.1 C497.7,409.7 499.8,403.8 501.5,398.6 C503.2,393.5 504.6,387.8 506.1,383.2 C507.6,378.6 508.9,374.2 510.7,370.9 C512.5,367.5 515.2,364.9 516.9,363.1 C518.6,361.4 519.5,361.2 521,360.4 C522.5,359.6 525.2,358.7 526,358.4 L526.3,358.4 L526.3,428.5 L490.6,428.5 Z" fill="#30e6e0"/>
<path d="M500.9,428 C501,427.3 501.2,426.8 501.8,424 C502.4,421.2 503.5,415.7 504.5,411 C505.5,406.3 506.4,400.8 507.6,395.6 C508.8,390.5 510.2,384.2 511.5,380.1 C512.8,376 514,373.4 515.4,370.9 C516.8,368.4 518.2,366.5 520,364.9 C521.8,363.3 525,362 526,361.4 L526.3,361.4 L526.3,428.5 L500.9,428.5 Z" fill="#18a8f4"/>
<path d="M507.3,428 C507.4,427.2 507.5,425.8 507.9,423 C508.3,420.2 508.9,415.8 509.6,411 C510.3,406.2 511.3,399.1 512.3,394 C513.3,388.9 514.2,384 515.4,380.1 C516.5,376.2 518,373.1 519.2,370.9 C520.4,368.7 521.3,368.1 522.4,367 C523.5,365.9 525.4,364.7 526,364.2 L526.3,364.2 L526.3,428.5 L507.3,428.5 Z" fill="#1050f0"/>
<path d="M512.8,428 C512.9,427 512.9,425.9 513.2,422 C513.5,418.1 514,410.2 514.6,404.8 C515.2,399.4 516,394.3 516.9,389.4 C517.8,384.5 519,378.6 520,375.5 C521,372.4 521.6,372 522.6,370.6 C523.6,369.2 525.4,367.8 526,367.2 L526.3,367.2 L526.3,428.5 L512.8,428.5 Z" fill="#0818c8"/>
<path d="M518.3,428 C518.3,426.7 518.3,424.4 518.6,420 C518.9,415.6 519.4,407.8 520,401.7 C520.6,395.6 521.3,388.3 522.3,383.2 C523.3,378.1 525.4,373 526,371 L526.3,371 L526.3,428.5 L518.3,428.5 Z" fill="#000078"/>
<path d="M477.5,407.6 C478.1,407.4 479.7,407.2 481,406.6 C482.3,406 483.4,405.7 485.3,404 C487.2,402.3 490.2,399.5 492.2,396.4 C494.2,393.3 495.6,389.3 497.2,385.6 C498.8,381.9 500.1,377.6 501.8,374 C503.5,370.4 505.3,366.9 507.6,364.3 C509.9,361.7 513.3,359.6 515.4,358.1 C517.5,356.7 518.4,356.4 520.2,355.6 C522,354.8 525,353.8 526,353.4" fill="none" stroke="#e03030" stroke-width="0.55" stroke-dasharray="1.6 1.1"/>
<path d="M477.5,351.6 C478.6,351.2 481.7,350 484,349.2 C486.3,348.4 488.7,347.3 491.4,346.6 C494.1,345.9 497.4,345.3 500,344.8 C502.6,344.3 504.2,344.1 506.9,343.6 C509.6,343.1 513.8,342.4 516.1,341.8 C518.5,341.2 519.4,340.9 521,340.2 C522.6,339.5 525.2,338.2 526,337.8" fill="none" stroke="#7a3a10" stroke-width="0.55" stroke-dasharray="1.6 1.1"/>
</g>
<rect x="479.2" y="314.8" width="45.1" height="111.7" fill="none" stroke="#333" stroke-width="0.4"/>
<rect x="529.9" y="331.2" width="3.6" height="9.3" fill="#c60400"/>
<rect x="529.9" y="340.2" width="3.6" height="9.3" fill="#f0560e"/>
<rect x="529.9" y="349.1" width="3.6" height="9.3" fill="#f5a80c"/>
<rect x="529.9" y="358.1" width="3.6" height="9.3" fill="#e9ef1e"/>
<rect x="529.9" y="367" width="3.6" height="9.3" fill="#c9f23a"/>
<rect x="529.9" y="376" width="3.6" height="9.3" fill="#7cf28c"/>
<rect x="529.9" y="385" width="3.6" height="9.3" fill="#30e6e0"/>
<rect x="529.9" y="393.9" width="3.6" height="9.3" fill="#18a8f4"/>
<rect x="529.9" y="402.9" width="3.6" height="9.3" fill="#1050f0"/>
<rect x="529.9" y="411.8" width="3.6" height="9.3" fill="#0818c8"/>
<rect x="529.9" y="416.8" width="3.6" height="4" fill="#000078"/>
<g class="t" font-size="3.3">
<text class="t" x="535.6" y="332.5" style="fill:#222;stroke:#222">963</text>
<text class="t" x="535.6" y="341.5" style="fill:#222;stroke:#222">897</text>
<text class="t" x="535.6" y="350.4" style="fill:#222;stroke:#222">831</text>
<text class="t" x="535.6" y="359.4" style="fill:#222;stroke:#222">764</text>
<text class="t" x="535.6" y="368.3" style="fill:#222;stroke:#222">698</text>
<text class="t" x="535.6" y="377.3" style="fill:#222;stroke:#222">632</text>
<text class="t" x="535.6" y="386.3" style="fill:#222;stroke:#222">566</text>
<text class="t" x="535.6" y="395.2" style="fill:#222;stroke:#222">499</text>
<text class="t" x="535.6" y="404.2" style="fill:#222;stroke:#222">433</text>
<text class="t" x="535.6" y="413.1" style="fill:#222;stroke:#222">367</text>
<text class="t" x="535.6" y="422.1" style="fill:#222;stroke:#222">301</text>
<text class="t" x="533.4" y="320" style="fill:#444;stroke:#444">K</text>
<text class="t" x="526.6" y="324.5" style="fill:#222;stroke:#222"><tspan font-size="4.4">▲</tspan> 963</text>
<text class="t" x="526.6" y="427.2" style="fill:#222;stroke:#222"><tspan font-size="4.4">▼</tspan> 301</text>
<text class="t" x="480.4" y="431.1" text-anchor="middle" style="fill:#444;stroke:#444">0</text>
<text class="t" x="496.6" y="431.1" text-anchor="middle" style="fill:#444;stroke:#444">100</text>
<text class="t" x="512.8" y="431.1" text-anchor="middle" style="fill:#444;stroke:#444">200</text>
<text class="t" x="520.6" y="431.1" text-anchor="middle" style="fill:#444;stroke:#444">mm</text>
</g>
<path d="M479.2,426.5 v1.4 M487.3,426.5 v1.4 M495.3,426.5 v1.4 M503.4,426.5 v1.4 M511.4,426.5 v1.4 M519.5,426.5 v1.4 M524.3,426.5 h-1.2 M524.3,416.8 h-1.2 M524.3,407.1 h-1.2 M524.3,397.4 h-1.2 M524.3,387.6 h-1.2 M524.3,377.9 h-1.2 M524.3,368.2 h-1.2 M524.3,358.5 h-1.2 M524.3,348.8 h-1.2 M524.3,339.1 h-1.2 M524.3,329.4 h-1.2 M524.3,319.7 h-1.2" stroke="#444" stroke-width="0.35" fill="none"/>
<text x="506" y="390.4" class="t" font-size="5.9" text-anchor="middle" style="fill:#1e3a20;stroke:#1e3a20">solidus</text>
<text x="500.7" y="326.4" class="t" font-size="5.9" text-anchor="middle" style="fill:#7e1410;stroke:#7e1410">high</text>
<text x="500.7" y="333.4" class="t" font-size="5.9" text-anchor="middle" style="fill:#7e1410;stroke:#7e1410">temperature</text>
<text x="500.7" y="340.4" class="t" font-size="5.9" text-anchor="middle" style="fill:#7e1410;stroke:#7e1410">region</text>
<path d="M510.8,384 L506.3,379" stroke="#f01818" stroke-width="1.3" fill="none"/>
<path d="M503.7,376.2 L507.7,377.7 L504.8,380.4 Z" fill="#f01818"/>
<text class="t" x="482.3" y="312.9" font-size="6.9" style="fill:#222;stroke:#222">(b)</text>
</g>
<g id="contour-c">
<rect x="548.4" y="314.4" width="64.2" height="117.5" fill="#fff" stroke="#8a8a8a" stroke-width="0.6"/>
<clipPath id="cp3"><rect x="549.0" y="314.8" width="42.6" height="111"/></clipPath>
<g clip-path="url(#cp3)">
<rect x="549.0" y="314.8" width="42.6" height="111" fill="#f0560e"/>
<path d="M566.6,313 C566.5,313.7 566.3,315.8 566,317 C565.7,318.2 565.2,319.1 564.6,320 C564,320.9 563.4,321.8 562.6,322.6 C561.9,323.4 561,324 560.1,324.6 C559.2,325.2 558,325.8 557,326.2 C556,326.6 555.7,326.8 554,327.1 C552.3,327.4 548.2,327.9 547,328 L547.0,328 L547.0,427.8 L593.6,427.8 L593.6,312.8 L566.6,312.8 Z" fill="#f5a80c"/>
<path d="M590.6,313 C590.3,313.3 589.5,314.3 588.6,315 C587.7,315.7 586.8,316.3 585.4,317.2 C584,318.1 581.9,319.3 580,320.6 C578.1,321.9 576,323.4 574.2,325 C572.4,326.6 570.5,328.5 569.1,330.5 C567.8,332.5 566.8,334.4 566.1,337.2 C565.4,340 565.2,343.8 564.8,347.2 C564.3,350.6 563.9,353.8 563.4,357.3 C562.9,360.8 562.3,364.5 561.8,368 C561.2,371.5 560.7,375.6 560.1,378.1 C559.5,380.6 559.1,381.5 558.4,383 C557.7,384.5 557.2,385.7 556.1,387.1 C555,388.5 553.5,390.6 552,391.6 C550.5,392.6 547.8,392.9 547,393.2 L547.0,393.2 L547.0,427.8 L593.6,427.8 L593.6,312.8 L590.6,312.8 Z" fill="#e9ef1e"/>
<path d="M593,323.4 C592.2,323.5 589.5,323.9 588,324.2 C586.5,324.5 585.8,324.7 584.2,325.4 C582.6,326.1 579.8,327.3 578.2,328.6 C576.6,329.9 575.5,331.5 574.7,333.4 C573.9,335.3 573.6,337.4 573.2,340.2 C572.8,343 572.7,346.5 572.4,350.2 C572.1,353.9 571.5,358.8 571.2,362.3 C570.9,365.8 570.8,368.5 570.4,371.4 C570,374.3 569.3,376.8 568.6,379.6 C567.9,382.4 567,385.3 566.1,388.1 C565.2,390.9 564.4,393.8 563.1,396.6 C561.8,399.4 560,402.5 558.1,404.8 C556.2,407.1 553.9,409.1 552,410.6 C550.1,412.1 547.8,413.1 547,413.6 L547.0,413.6 L547.0,427.8 L593.6,427.8 L593.6,312.8 L593.6,323.4 Z" fill="#c9f23a"/>
<path d="M593,327.6 C592.3,327.7 589.7,328.1 588.6,328.4 C587.5,328.7 587.4,328.7 586.2,329.4 C585,330.1 582.8,331.3 581.6,332.6 C580.4,333.9 579.5,335.6 578.9,337.4 C578.2,339.2 578,340.9 577.7,343.4 C577.4,345.9 577.5,349 577.2,352.2 C576.9,355.4 576.3,359.1 575.9,362.3 C575.5,365.5 575,368.5 574.6,371.4 C574.2,374.3 573.9,376.7 573.2,379.6 C572.5,382.5 571.5,385.6 570.6,388.6 C569.7,391.6 568.9,394.6 567.6,397.6 C566.4,400.6 564.9,403.8 563.1,406.6 C561.4,409.4 559,412.5 557.1,414.6 C555.2,416.7 553.7,418 552,419.2 C550.3,420.4 547.8,421.2 547,421.6 L547.0,421.6 L547.0,427.8 L593.6,427.8 L593.6,312.8 L593.6,327.6 Z" fill="#7cf28c"/>
<path d="M593,335 C592.5,335.5 590.8,337 590,338 C589.2,339 588.9,339.5 588.3,341 C587.7,342.5 587.1,344.7 586.6,347 C586.1,349.3 585.8,352.2 585.4,355 C585,357.8 584.6,361 584,364 C583.4,367 582.7,369.8 582,373 C581.3,376.2 580.4,380.1 579.6,383.4 C578.8,386.7 577.9,389.9 577,393 C576.1,396.1 575.3,399.2 574.4,402.2 C573.5,405.2 572.4,408.2 571.4,411 C570.4,413.8 569.5,416.2 568.6,419 C567.7,421.8 566.6,426.5 566.2,428 L566.2,427.8 L593.6,427.8 L593.6,312.8 L593.6,335 Z" fill="#30e6e0"/>
<path d="M593,347.6 C592.6,348.5 591.3,351.1 590.6,353 C589.9,354.9 589.5,356.8 589,359.3 C588.5,361.8 588,364.9 587.4,368 C586.8,371.1 586.3,374.5 585.6,378 C584.9,381.5 584.2,385.4 583.4,389 C582.6,392.6 581.8,396.3 581,399.6 C580.2,402.9 579.4,406.1 578.6,409 C577.8,411.9 576.9,414.7 576.2,417 C575.5,419.3 574.9,421.2 574.4,423 C573.9,424.8 573.4,427.2 573.2,428 L573.2,427.8 L593.6,427.8 L593.6,312.8 L593.6,347.6 Z" fill="#18a8f4"/>
<path d="M593,358.6 C592.7,359.5 591.6,361.9 591,364 C590.4,366.1 589.9,368.6 589.4,371.4 C588.9,374.2 588.4,377.6 587.8,381 C587.2,384.4 586.6,388.5 586,392 C585.4,395.5 584.7,398.7 584,402 C583.3,405.3 582.6,409 582,412 C581.4,415 580.9,417.3 580.4,420 C579.9,422.7 579.4,426.7 579.2,428 L579.2,427.8 L593.6,427.8 L593.6,312.8 L593.6,358.6 Z" fill="#1050f0"/>
<path d="M593,369 C592.7,370.2 591.7,373.4 591.2,376 C590.7,378.6 590.4,381.3 590,384.5 C589.6,387.7 589.2,391.5 588.8,395 C588.4,398.5 588,401.7 587.6,405.4 C587.2,409.1 586.6,413.2 586.2,417 C585.8,420.8 585.4,426.2 585.2,428 L585.2,427.8 L593.6,427.8 L593.6,312.8 L593.6,369 Z" fill="#0818c8"/>
<path d="M593,381 C592.8,382.5 592,387 591.6,390 C591.2,393 591,395.1 590.7,399.1 C590.4,403.1 590.1,409.2 589.9,414 C589.7,418.8 589.4,425.7 589.3,428 L589.3,427.8 L593.6,427.8 L593.6,312.8 L593.6,381 Z" fill="#000078"/>
<path d="M593,323.4 C592.2,323.5 589.5,323.9 588,324.2 C586.5,324.5 585.8,324.7 584.2,325.4 C582.6,326.1 579.8,327.3 578.2,328.6 C576.6,329.9 575.5,331.5 574.7,333.4 C573.9,335.3 573.6,337.4 573.2,340.2 C572.8,343 572.7,346.5 572.4,350.2 C572.1,353.9 571.5,358.8 571.2,362.3 C570.9,365.8 570.8,368.5 570.4,371.4 C570,374.3 569.3,376.8 568.6,379.6 C567.9,382.4 567,385.3 566.1,388.1 C565.2,390.9 564.4,393.8 563.1,396.6 C561.8,399.4 560,402.5 558.1,404.8 C556.2,407.1 553.9,409.1 552,410.6 C550.1,412.1 547.8,413.1 547,413.6" fill="none" stroke="#e03030" stroke-width="0.55" stroke-dasharray="1.6 1.1"/>
</g>
<rect x="549.0" y="314.8" width="42.6" height="111" fill="none" stroke="#333" stroke-width="0.4"/>
<rect x="597.7" y="331.2" width="3.4" height="9.2" fill="#c60400"/>
<rect x="597.7" y="340.1" width="3.4" height="9.2" fill="#f0560e"/>
<rect x="597.7" y="349" width="3.4" height="9.2" fill="#f5a80c"/>
<rect x="597.7" y="357.9" width="3.4" height="9.2" fill="#e9ef1e"/>
<rect x="597.7" y="366.8" width="3.4" height="9.2" fill="#c9f23a"/>
<rect x="597.7" y="375.7" width="3.4" height="9.2" fill="#7cf28c"/>
<rect x="597.7" y="384.6" width="3.4" height="9.2" fill="#30e6e0"/>
<rect x="597.7" y="393.5" width="3.4" height="9.2" fill="#18a8f4"/>
<rect x="597.7" y="402.4" width="3.4" height="9.2" fill="#1050f0"/>
<rect x="597.7" y="411.3" width="3.4" height="9.2" fill="#0818c8"/>
<rect x="597.7" y="416.2" width="3.4" height="4" fill="#000078"/>
<g class="t" font-size="3.3">
<text class="t" x="603.2" y="332.5" style="fill:#222;stroke:#222">963</text>
<text class="t" x="603.2" y="341.4" style="fill:#222;stroke:#222">897</text>
<text class="t" x="603.2" y="350.3" style="fill:#222;stroke:#222">831</text>
<text class="t" x="603.2" y="359.2" style="fill:#222;stroke:#222">764</text>
<text class="t" x="603.2" y="368.1" style="fill:#222;stroke:#222">698</text>
<text class="t" x="603.2" y="377" style="fill:#222;stroke:#222">632</text>
<text class="t" x="603.2" y="385.9" style="fill:#222;stroke:#222">566</text>
<text class="t" x="603.2" y="394.8" style="fill:#222;stroke:#222">499</text>
<text class="t" x="603.2" y="403.7" style="fill:#222;stroke:#222">433</text>
<text class="t" x="603.2" y="412.6" style="fill:#222;stroke:#222">367</text>
<text class="t" x="603.2" y="421.5" style="fill:#222;stroke:#222">301</text>
<text class="t" x="601" y="320" style="fill:#444;stroke:#444">K</text>
<text class="t" x="594.4" y="324.5" style="fill:#222;stroke:#222"><tspan font-size="4.4">▲</tspan> 963</text>
<text class="t" x="594.4" y="426.6" style="fill:#222;stroke:#222"><tspan font-size="4.4">▼</tspan> 301</text>
<text class="t" x="550.2" y="430.4" text-anchor="middle" style="fill:#444;stroke:#444">0</text>
<text class="t" x="566.4" y="430.4" text-anchor="middle" style="fill:#444;stroke:#444">100</text>
<text class="t" x="587.8" y="430.4" text-anchor="middle" style="fill:#444;stroke:#444">mm</text>
</g>
<path d="M549,425.8 v1.4 M556.6,425.8 v1.4 M564.2,425.8 v1.4 M571.8,425.8 v1.4 M579.4,425.8 v1.4 M587,425.8 v1.4 M591.6,425.8 h-1.2 M591.6,416.1 h-1.2 M591.6,406.5 h-1.2 M591.6,396.8 h-1.2 M591.6,387.2 h-1.2 M591.6,377.5 h-1.2 M591.6,367.9 h-1.2 M591.6,358.2 h-1.2 M591.6,348.6 h-1.2 M591.6,338.9 h-1.2 M591.6,329.3 h-1.2 M591.6,319.6 h-1.2" stroke="#444" stroke-width="0.35" fill="none"/>
<text x="571.2" y="394.2" class="t" font-size="5.9" text-anchor="middle" style="fill:#1e3a20;stroke:#1e3a20">solidus</text>
<text x="563.4" y="336.4" class="t" font-size="5.9" text-anchor="middle" style="fill:#3c4a18;stroke:#3c4a18">high</text>
<text x="563.4" y="343.6" class="t" font-size="5.9" text-anchor="middle" style="fill:#3c4a18;stroke:#3c4a18">temperature</text>
<text x="563.4" y="350.6" class="t" font-size="5.9" text-anchor="middle" style="fill:#3c4a18;stroke:#3c4a18">region</text>
<path d="M576.4,387.6 L571.7,382.9" stroke="#f01818" stroke-width="1.3" fill="none"/>
<path d="M569,380.2 L573.1,381.5 L570.3,384.3 Z" fill="#f01818"/>
<path d="M561.4,331 L556.7,325.2" stroke="#1c4fb4" stroke-width="1.3" fill="none"/>
<path d="M554.3,322.2 L558.2,323.9 L555.1,326.4 Z" fill="#1c4fb4"/>
<text class="t" x="552.8" y="312.9" font-size="6.9" style="fill:#222;stroke:#222">(c)</text>
</g>
<g id="contour-d">
<rect x="616.6" y="314.4" width="64.6" height="117.5" fill="#fff" stroke="#8a8a8a" stroke-width="0.6"/>
<clipPath id="cp4"><rect x="617.6" y="315.0" width="44.7" height="110.6"/></clipPath>
<g clip-path="url(#cp4)">
<rect x="617.6" y="315.0" width="44.7" height="110.6" fill="#f0560e"/>
<path d="M637.8,313 C637.6,313.7 637,315.9 636.6,317 C636.2,318.1 636,318.2 635.1,319.4 C634.2,320.6 632.6,322.4 631.1,324.4 C629.6,326.3 627.6,329.2 626.1,331.1 C624.6,333.1 623.2,334.9 622,336.1 C620.8,337.3 620,337.9 619,338.4 C618,338.9 616.5,339.1 616,339.2 L615.6,339.2 L615.6,427.6 L664.3,427.6 L664.3,313.0 L637.8,313.0 Z" fill="#f5a80c"/>
<path d="M646.6,313 C646.3,313.5 645.9,314.8 645,316 C644.1,317.2 642.5,318.7 641.2,320.4 C639.9,322.1 638.3,324.2 637.1,326.4 C635.9,328.6 634.9,330.8 634.1,333.4 C633.4,336 632.9,339.1 632.6,342.2 C632.3,345.3 632.2,348.8 632.1,352.2 C632,355.6 632,359.3 631.9,362.3 C631.8,365.3 631.6,367.4 631.4,370 C631.1,372.6 630.9,375.2 630.4,378.1 C629.9,381 629.1,384.7 628.1,387.6 C627.1,390.5 625.5,393.6 624.1,395.6 C622.8,397.6 621.4,398.8 620,399.8 C618.6,400.8 616.7,401.1 616,401.4 L615.6,401.4 L615.6,427.6 L664.3,427.6 L664.3,313.0 L646.6,313.0 Z" fill="#e9ef1e"/>
<path d="M662,313.4 C661.5,313.6 660.8,314.1 659.3,314.8 C657.8,315.5 655.2,316.3 653.2,317.4 C651.2,318.4 649,319.6 647.2,321.1 C645.4,322.6 643.6,324.5 642.4,326.4 C641.2,328.3 640.6,330.1 640.1,332.4 C639.6,334.7 639.6,337.6 639.6,340.2 C639.6,342.8 640.1,345.5 640.2,348.2 C640.3,350.9 640.3,353.6 640.2,356.3 C640.1,359 639.8,362 639.6,364.3 C639.4,366.6 639.2,367.7 638.9,370 C638.6,372.3 638.1,375.1 637.6,378.1 C637.1,381.1 636.4,384.9 635.6,388.1 C634.9,391.3 634.2,394.3 633.1,397.4 C632,400.4 630.8,403.7 629.1,406.4 C627.4,409.1 624.7,411.9 623,413.6 C621.3,415.3 620.2,415.9 619,416.6 C617.8,417.3 616.5,417.6 616,417.8 L615.6,417.8 L615.6,427.6 L664.3,427.6 L664.3,313.0 L662,313.0 Z" fill="#c9f23a"/>
<path d="M664,321.4 C662.9,321.6 659.4,321.8 657.3,322.4 C655.2,323 653,323.9 651.2,325 C649.4,326.1 647.8,327.6 646.7,329.2 C645.6,330.8 645.1,332.4 644.7,334.6 C644.3,336.8 644.2,339.6 644.2,342.2 C644.2,344.8 644.7,347.5 644.7,350.2 C644.7,352.9 644.6,355.6 644.4,358.3 C644.2,361 644,364.1 643.7,366.3 C643.4,368.5 643.2,369.2 642.8,371.4 C642.4,373.6 641.8,376.7 641.2,379.6 C640.6,382.5 639.9,385.6 639.1,388.6 C638.3,391.6 637.6,394.6 636.6,397.6 C635.6,400.6 634.5,403.8 633.1,406.6 C631.7,409.4 630,412.4 628.1,414.6 C626.2,416.8 624,418.6 622,420 C620,421.4 617,422.5 616,423 L615.6,423 L615.6,427.6 L664.3,427.6 L664.3,313.0 L664.3,321.4 Z" fill="#7cf28c"/>
<path d="M664,328.6 C663.2,329.2 660.4,330.8 659.3,332.4 C658.2,334 657.8,335.9 657.3,338.2 C656.8,340.5 656.6,343.5 656.3,346.2 C656,348.9 655.8,351.6 655.3,354.3 C654.8,357 654.2,359.6 653.4,362.3 C652.6,365 651.4,367.1 650.4,370.6 C649.4,374.1 648.4,378.5 647.4,383.1 C646.4,387.7 645.3,393.5 644.2,398.2 C643.1,402.9 641.8,407.6 640.6,411.3 C639.4,415 637.9,417.5 636.8,420.3 C635.7,423.1 634.5,426.7 634.1,428 L634.1,427.6 L664.3,427.6 L664.3,313.0 L664.3,328.6 Z" fill="#30e6e0"/>
<path d="M664,351.6 C663.4,352.4 661.2,354.5 660.3,356.3 C659.3,358.1 659.1,359.9 658.3,362.3 C657.5,364.7 656.5,367.1 655.6,370.6 C654.7,374.1 653.6,378.5 652.6,383.1 C651.6,387.7 650.6,393.5 649.6,398.2 C648.6,402.9 647.4,407.6 646.4,411.3 C645.4,415 644.5,417.5 643.7,420.3 C642.9,423.1 642,426.7 641.7,428 L641.7,427.6 L664.3,427.6 L664.3,313.0 L664.3,351.6 Z" fill="#18a8f4"/>
<path d="M664,358.6 C663.4,359.6 661.3,362.2 660.3,364.3 C659.3,366.4 658.6,368.3 657.8,371.4 C656.9,374.5 656,378.6 655.2,383.1 C654.4,387.6 653.7,393.5 652.9,398.2 C652.1,402.9 651.2,406.3 650.4,411.3 C649.6,416.3 648.6,425.2 648.2,428 L648.2,427.6 L664.3,427.6 L664.3,313.0 L664.3,358.6 Z" fill="#1050f0"/>
<path d="M664,362.6 C663.5,363.6 661.5,366.6 660.8,368.3 C660.1,370 660.1,370.5 659.6,373 C659.1,375.5 658.5,378.9 658,383.1 C657.5,387.3 656.8,393.5 656.3,398.2 C655.8,402.9 655.2,406.3 654.8,411.3 C654.4,416.3 653.9,425.2 653.7,428 L653.7,427.6 L664.3,427.6 L664.3,313.0 L664.3,362.6 Z" fill="#0818c8"/>
<path d="M664,365.6 C663.6,366.6 662,368.5 661.4,371.4 C660.8,374.3 660.7,378.6 660.4,383.1 C660.1,387.6 659.7,393.5 659.4,398.2 C659.1,402.9 658.8,406.3 658.6,411.3 C658.4,416.3 658.2,425.2 658.1,428 L658.1,427.6 L664.3,427.6 L664.3,313.0 L664.3,365.6 Z" fill="#000078"/>
<path d="M662,313.4 C661.5,313.6 660.8,314.1 659.3,314.8 C657.8,315.5 655.2,316.3 653.2,317.4 C651.2,318.4 649,319.6 647.2,321.1 C645.4,322.6 643.6,324.5 642.4,326.4 C641.2,328.3 640.6,330.1 640.1,332.4 C639.6,334.7 639.6,337.6 639.6,340.2 C639.6,342.8 640.1,345.5 640.2,348.2 C640.3,350.9 640.3,353.6 640.2,356.3 C640.1,359 639.8,362 639.6,364.3 C639.4,366.6 639.2,367.7 638.9,370 C638.6,372.3 638.1,375.1 637.6,378.1 C637.1,381.1 636.4,384.9 635.6,388.1 C634.9,391.3 634.2,394.3 633.1,397.4 C632,400.4 630.8,403.7 629.1,406.4 C627.4,409.1 624.7,411.9 623,413.6 C621.3,415.3 620.2,415.9 619,416.6 C617.8,417.3 616.5,417.6 616,417.8" fill="none" stroke="#e03030" stroke-width="0.55" stroke-dasharray="1.6 1.1"/>
</g>
<rect x="617.6" y="315.0" width="44.7" height="110.6" fill="none" stroke="#333" stroke-width="0.4"/>
<rect x="668.3" y="331.2" width="3.6" height="9.2" fill="#c60400"/>
<rect x="668.3" y="340.1" width="3.6" height="9.2" fill="#f0560e"/>
<rect x="668.3" y="349" width="3.6" height="9.2" fill="#f5a80c"/>
<rect x="668.3" y="357.8" width="3.6" height="9.2" fill="#e9ef1e"/>
<rect x="668.3" y="366.7" width="3.6" height="9.2" fill="#c9f23a"/>
<rect x="668.3" y="375.6" width="3.6" height="9.2" fill="#7cf28c"/>
<rect x="668.3" y="384.5" width="3.6" height="9.2" fill="#30e6e0"/>
<rect x="668.3" y="393.4" width="3.6" height="9.2" fill="#18a8f4"/>
<rect x="668.3" y="402.2" width="3.6" height="9.2" fill="#1050f0"/>
<rect x="668.3" y="411.1" width="3.6" height="9.2" fill="#0818c8"/>
<rect x="668.3" y="416" width="3.6" height="4" fill="#000078"/>
<g class="t" font-size="3.3">
<text class="t" x="674" y="332.5" style="fill:#222;stroke:#222">963</text>
<text class="t" x="674" y="341.4" style="fill:#222;stroke:#222">897</text>
<text class="t" x="674" y="350.3" style="fill:#222;stroke:#222">830</text>
<text class="t" x="674" y="359.1" style="fill:#222;stroke:#222">764</text>
<text class="t" x="674" y="368" style="fill:#222;stroke:#222">698</text>
<text class="t" x="674" y="376.9" style="fill:#222;stroke:#222">632</text>
<text class="t" x="674" y="385.8" style="fill:#222;stroke:#222">565</text>
<text class="t" x="674" y="394.7" style="fill:#222;stroke:#222">499</text>
<text class="t" x="674" y="403.5" style="fill:#222;stroke:#222">433</text>
<text class="t" x="674" y="412.4" style="fill:#222;stroke:#222">367</text>
<text class="t" x="674" y="421.3" style="fill:#222;stroke:#222">300</text>
<text class="t" x="671.8" y="320" style="fill:#444;stroke:#444">K</text>
<text class="t" x="665" y="324.5" style="fill:#222;stroke:#222"><tspan font-size="4.4">▲</tspan> 963</text>
<text class="t" x="665" y="426.4" style="fill:#222;stroke:#222"><tspan font-size="4.4">▼</tspan> 300</text>
<text class="t" x="619" y="430.2" text-anchor="middle" style="fill:#444;stroke:#444">0</text>
<text class="t" x="635.2" y="430.2" text-anchor="middle" style="fill:#444;stroke:#444">100</text>
<text class="t" x="651.4" y="430.2" text-anchor="middle" style="fill:#444;stroke:#444">200</text>
<text class="t" x="658.6" y="430.2" text-anchor="middle" style="fill:#444;stroke:#444">mm</text>
</g>
<path d="M617.6,425.6 v1.4 M625.6,425.6 v1.4 M633.6,425.6 v1.4 M641.5,425.6 v1.4 M649.5,425.6 v1.4 M657.5,425.6 v1.4 M662.3,425.6 h-1.2 M662.3,416 h-1.2 M662.3,406.4 h-1.2 M662.3,396.7 h-1.2 M662.3,387.1 h-1.2 M662.3,377.5 h-1.2 M662.3,367.9 h-1.2 M662.3,358.3 h-1.2 M662.3,348.7 h-1.2 M662.3,339 h-1.2 M662.3,329.4 h-1.2 M662.3,319.8 h-1.2" stroke="#444" stroke-width="0.35" fill="none"/>
<text x="639.2" y="394.4" class="t" font-size="5.9" text-anchor="middle" style="fill:#1e3a20;stroke:#1e3a20">solidus</text>
<text x="632.9" y="345" class="t" font-size="5.9" text-anchor="middle" style="fill:#3c4a18;stroke:#3c4a18">high</text>
<text x="632.9" y="351.9" class="t" font-size="5.9" text-anchor="middle" style="fill:#3c4a18;stroke:#3c4a18">temperature</text>
<text x="632.9" y="359" class="t" font-size="5.9" text-anchor="middle" style="fill:#3c4a18;stroke:#3c4a18">region</text>
<path d="M644.6,388.2 L639.8,383.6" stroke="#f01818" stroke-width="1.3" fill="none"/>
<path d="M637,381 L641.1,382.2 L638.4,385.1 Z" fill="#f01818"/>
<path d="M631.6,339.4 L626.8,333.5" stroke="#1c4fb4" stroke-width="1.3" fill="none"/>
<path d="M624.4,330.6 L628.4,332.3 L625.3,334.8 Z" fill="#1c4fb4"/>
<text class="t" x="619.0" y="312.9" font-size="6.9" style="fill:#222;stroke:#222">(d)</text>
</g>
</g>
<g id="schematics">
<rect x="411.1" y="452" width="126.6" height="115.4" fill="#fdefc9" stroke="#8e96a6" stroke-width="0.9"/>
<rect x="426.6" y="452.4" width="8" height="115" rx="4" ry="10" fill="#12142a"/>
<text class="b" x="430.8" y="509" font-size="8.2" text-anchor="middle" style="fill:#fff;stroke:#fff">S</text>
<path d="M433,470.5 Q436,471.8 439,471.8 L459.2,472.2 L459.2,473.1 L439,473.6 Q436,473.6 433,474.9 Z" fill="#12142a"/>
<path d="M441.1,467 Q439.7,472.7 440.4,480" stroke="#12142a" stroke-width="3.0" stroke-linecap="round" fill="none"/>
<path d="M446.2,468.8 Q444.8,472.7 445.5,478.4" stroke="#12142a" stroke-width="2.8" stroke-linecap="round" fill="none"/>
<path d="M450.7,469.6 Q449.3,472.7 450,476.2" stroke="#12142a" stroke-width="2.0" stroke-linecap="round" fill="none"/>
<path d="M454.5,470.6 Q453.1,472.7 453.8,474.9" stroke="#12142a" stroke-width="1.5" stroke-linecap="round" fill="none"/>
<path d="M433,490.9 Q436,492.2 439,492.2 L471.6,492.7 L471.6,493.6 L439,494 Q436,494 433,495.3 Z" fill="#12142a"/>
<path d="M444.3,485.8 Q442.9,493.1 443.6,501.7" stroke="#12142a" stroke-width="3.4" stroke-linecap="round" fill="none"/>
<path d="M451.2,487.8 Q449.8,493.1 450.5,499.7" stroke="#12142a" stroke-width="3.4" stroke-linecap="round" fill="none"/>
<path d="M457.7,488.8 Q456.3,493.1 457,496.2" stroke="#12142a" stroke-width="2.5" stroke-linecap="round" fill="none"/>
<path d="M463.6,490.2 Q462.2,493.1 462.9,495.4" stroke="#12142a" stroke-width="2.2" stroke-linecap="round" fill="none"/>
<path d="M433,511.7 Q436,513 439,513 L463.8,513.4 L463.8,514.4 L439,514.8 Q436,514.8 433,516.1 Z" fill="#12142a"/>
<path d="M442.3,508.6 Q440.9,513.9 441.6,521.4" stroke="#12142a" stroke-width="3.0" stroke-linecap="round" fill="none"/>
<path d="M447.5,509.6 Q446.1,513.9 446.8,520" stroke="#12142a" stroke-width="2.8" stroke-linecap="round" fill="none"/>
<path d="M452.5,510.6 Q451.1,513.9 451.8,518.6" stroke="#12142a" stroke-width="2.1" stroke-linecap="round" fill="none"/>
<path d="M457.3,511.8 Q455.9,513.9 456.6,516.8" stroke="#12142a" stroke-width="1.6" stroke-linecap="round" fill="none"/>
<path d="M433,536.9 Q436,538.2 439,538.2 L452.4,538.6 L452.4,539.6 L439,540 Q436,540 433,541.3 Z" fill="#12142a"/>
<path d="M441.3,532.2 Q439.9,539.1 440.6,548.6" stroke="#12142a" stroke-width="3.0" stroke-linecap="round" fill="none"/>
<path d="M446.1,533.4 Q444.7,539.1 445.4,546.8" stroke="#12142a" stroke-width="2.7" stroke-linecap="round" fill="none"/>
<path d="M450.1,534.6 Q448.7,539.1 449.4,544.2" stroke="#12142a" stroke-width="2.0" stroke-linecap="round" fill="none"/>
<g class="b" font-size="7.6" text-anchor="middle">
<text class="b" x="444.4" y="464.4">L</text><text class="b" x="458.8" y="505.4">L</text><text class="b" x="450" y="561">L</text>
</g>
<text class="t" x="414.2" y="459.4" font-size="6.8" style="fill:#222;stroke:#222">(a)</text>
<text class="t" x="461.4" y="461.4" font-size="7.06" style="fill:#3a3a3a;stroke:#3a3a3a">Two-phase region</text>
<ellipse cx="499.6" cy="510" rx="29.4" ry="38" fill="none" stroke="#111" stroke-width="1.25" stroke-dasharray="4.4 2.6"/>
<path d="M455.6,543.6 L460,548 M460,543.6 L455.6,548" stroke="#0a0a1c" stroke-width="1.7" fill="none"/>
<path d="M462.4,546.6 Q474,552.6 485.6,545.6" stroke="#111" stroke-width="0.8" fill="none" marker-end="url(#ahs)"/>
<path d="M528.8,552.4 L520.8,540" stroke="#111" stroke-width="0.8" fill="none" marker-end="url(#ahs)"/>
<text class="t" x="524.8" y="560.4" font-size="7.1" text-anchor="middle" style="fill:#222;stroke:#222">vortex</text>
<rect x="554.7" y="452" width="126.4" height="115.4" fill="#fdefc9" stroke="#8e96a6" stroke-width="0.9"/>
<text class="t" x="557.4" y="459.6" font-size="6.6" style="fill:#222;stroke:#222">(b)</text>
<text class="t" x="570" y="459.2" font-size="7.78" style="fill:#2a2a2a;stroke:#2a2a2a">melt(melt temperature lower than</text>
<text class="t" x="602.6" y="468.2" font-size="7.78" style="fill:#2a2a2a;stroke:#2a2a2a">the liquidus)</text>
<g fill="#e2181e" stroke="#a81418" stroke-width="0.55">
<circle cx="572.9" cy="474" r="2.0"/>
<circle cx="584.7" cy="472.2" r="2.0"/>
<circle cx="593.3" cy="477.1" r="2.0"/>
<circle cx="581.1" cy="482.4" r="2.0"/>
<circle cx="564.3" cy="486.9" r="2.0"/>
<circle cx="588.8" cy="490.4" r="2.0"/>
<circle cx="604.8" cy="487.3" r="2.0"/>
<circle cx="559.8" cy="500" r="2.0"/>
<circle cx="561.6" cy="517" r="2.0"/>
<circle cx="582.1" cy="519.6" r="2.0"/>
<circle cx="570" cy="525.4" r="2.0"/>
<circle cx="599.9" cy="521.7" r="2.0"/>
<circle cx="577.8" cy="532.9" r="2.0"/>
<circle cx="593.8" cy="529.9" r="2.0"/>
<circle cx="608.3" cy="529.9" r="2.0"/>
<circle cx="620.2" cy="524.7" r="2.0"/>
<circle cx="615.9" cy="537.6" r="2.0"/>
<circle cx="570" cy="541.1" r="2.0"/>
<circle cx="608.3" cy="545.6" r="2.0"/>
<circle cx="627.7" cy="474" r="2.0"/>
<circle cx="648.3" cy="477" r="2.0"/>
<circle cx="636.3" cy="482.3" r="2.0"/>
<circle cx="659.7" cy="487.1" r="2.0"/>
<circle cx="643.8" cy="494" r="2.0"/>
<circle cx="641.9" cy="521.3" r="2.0"/>
<circle cx="661.9" cy="524.6" r="2.0"/>
<circle cx="650.2" cy="529.9" r="2.0"/>
<circle cx="673.9" cy="534.6" r="2.0"/>
<circle cx="657.7" cy="537.7" r="2.0"/>
<circle cx="650.2" cy="545.5" r="2.0"/>
<circle cx="631.8" cy="534.6" r="2.0"/>
</g>
<path d="M570.6,500.8 L578.6,508.6 M570.6,508.6 L578.6,500.8" stroke="#050505" stroke-width="2.7" stroke-linecap="round" fill="none"/>
<g stroke="#111" stroke-width="1.1" fill="none">
<path d="M566.3,491 L570.6,497.8" marker-end="url(#ahs)"/>
<path d="M580.2,487.9 L576.8,496.8" marker-end="url(#ahs)"/>
<path d="M563.9,514.5 L568.8,509.9" marker-end="url(#ahs)"/>
<path d="M579.6,516.6 L576.6,510.6" marker-end="url(#ahs)"/>
<path d="M588.8,504.7 L605.6,504.7" marker-end="url(#ahs)"/>
<path d="M629.4,505.1 L646,505.1" marker-end="url(#ahs)"/>
<path d="M571.4,542.1 L583.4,548.6" marker-end="url(#ahs)"/>
</g>
<path d="M611.8,504.1 L624.1,504.9 M615.9,499.6 L621.1,508.7 M621.7,499.6 L614.7,510.8" stroke="#050505" stroke-width="2.2" stroke-linecap="round" fill="none"/>
<path d="M652.8,505 C652.4,498.6 655.6,494.2 661,494 C668.6,493.8 676,498 675.8,505.4 C675.6,511.6 671.4,515.8 664.4,515.6 C658.4,515.4 653.2,512.4 652.8,505 Z" fill="#050505"/>
<circle cx="664" cy="503" r="2.05" fill="#fff"/>
<text class="t" x="593.8" y="551" font-size="7.9" text-anchor="middle" style="fill:#222;stroke:#222">atom</text>
</g>
</g>
</svg>
</body>
</html>
